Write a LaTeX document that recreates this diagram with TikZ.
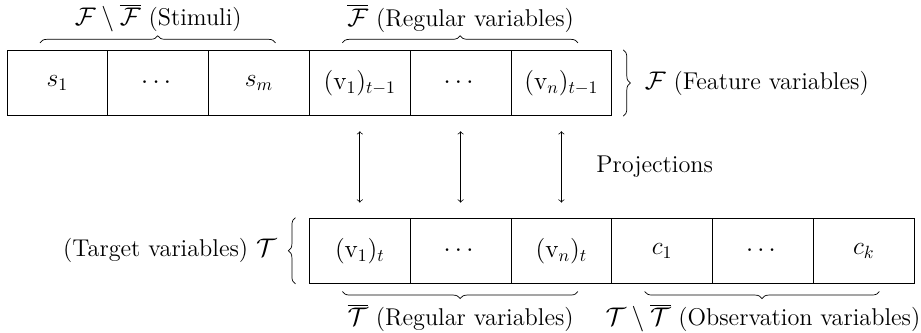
\documentclass[tikz,border=0pt]{standalone}
\usepackage{amsmath}
\usepackage{amssymb}
\usetikzlibrary{positioning}
\usetikzlibrary{calc}
\usetikzlibrary{decorations.pathreplacing}

\tikzset{
  cell/.style={draw, minimum width=2cm, minimum height=1.3cm, inner sep=0pt},
  brc/.style={decorate, decoration={brace, amplitude=4pt}},
  proj/.style={<->, shorten >=0.3cm, shorten <=0.3cm},
}

\begin{document}
\begin{tikzpicture}[every node/.style={font=\fontsize{13.7}{16.5}\selectfont}]
    \useasboundingbox (-0.14,-4.96) rectangle (18.135,1.647);

    \foreach \i/\w in {1/$s_1$, 2/$\cdots$, 3/$s_m$, 4/$(\mathrm{v}_1)_{t-1}$, 5/$\cdots$, 6/$(\mathrm{v}_n)_{t-1}$} {
        \node[cell] (t\i) at (2*\i-1, 0) {\w};
    }
    \foreach \i/\w in {1/$(\mathrm{v}_1)_t$, 2/$\cdots$, 3/$(\mathrm{v}_n)_t$, 4/$c_1$, 5/$\cdots$, 6/$c_k$} {
        \node[cell] (b\i) at (2*\i+5, -3.33) {\w};
    }

    \foreach \i/\j in {4/1, 5/2, 6/3} {
        \draw[proj] (t\i) -- (b\j);
    }
    \node (lproj) at (12.85, -1.665) {Projections};

    \draw[brc] ([xshift=0.66cm, yshift=0.14cm]t1.north west) -- ([xshift=-0.68cm, yshift=0.14cm]t3.north east);
    \draw[brc] ([xshift=0.66cm, yshift=0.14cm]t4.north west) -- ([xshift=-0.68cm, yshift=0.14cm]t6.north east);
    \draw[brc] ([xshift=0.22cm]t6.north east) -- ([xshift=0.22cm]t6.south east);
    \draw[brc] ([xshift=-0.27cm]b1.south west) -- ([xshift=-0.27cm]b1.north west);
    \draw[brc] ([xshift=-0.68cm, yshift=-0.15cm]b3.south east) -- ([xshift=0.66cm, yshift=-0.15cm]b1.south west);
    \draw[brc] ([xshift=-0.7cm, yshift=-0.15cm]b6.south east) -- ([xshift=0.66cm, yshift=-0.15cm]b4.south west);

    \node (lstim) at (3, 1.29) {$\mathcal{F}\setminus\overline{\mathcal{F}}$ (Stimuli)};
    \node (lfreg) at (9, 1.29) {$\overline{\mathcal{F}}$ (Regular variables)};
    \node[anchor=west] (lfeat) at (12.53, 0) {$\mathcal{F}$ (Feature variables)};
    \node[anchor=east] (ltarg) at (5.47, -3.33) {(Target variables) $\mathcal{T}$};
    \node (ltreg) at (9, -4.66) {$\overline{\mathcal{T}}$ (Regular variables)};
    \node (lobs) at (15, -4.66) {$\mathcal{T}\setminus\overline{\mathcal{T}}$ (Observation variables)};
\end{tikzpicture}
\end{document}
